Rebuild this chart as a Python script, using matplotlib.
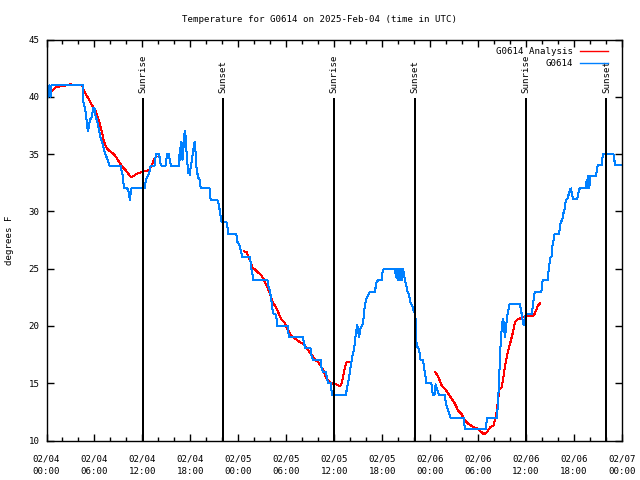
import numpy as np
import matplotlib
matplotlib.use("Agg")
import matplotlib.pyplot as plt
from matplotlib.ticker import MultipleLocator

# ---- data (hours since 2025-02-04 00:00 UTC, degrees F) ----
obs_hours = [0.0, 0.12, 0.25, 0.37, 0.5, 0.62, 1.0, 4.57, 4.63, 4.83, 5.0, 5.12, 5.2, 5.45, 5.65, 5.83,
             6.0, 6.12, 6.32, 6.52, 6.72, 7.05, 7.34, 7.54, 7.87, 9.27, 9.4, 9.57, 9.69, 10.11, 10.32, 10.43,
             10.6, 12.3, 12.43, 12.59, 12.84, 13.01, 13.14, 13.55, 13.67, 14.08, 14.26, 14.38, 14.88, 15.09,
             15.3, 15.55, 16.58, 16.67, 16.76, 16.88, 17.01, 17.17, 17.29, 17.42, 17.5, 17.63, 17.76, 17.83,
             17.92, 18.04, 18.2, 18.33, 18.45, 18.54, 18.63, 18.75, 18.95, 19.16, 19.29, 20.41, 20.53, 21.37,
             21.53, 21.65, 21.78, 21.9, 22.5, 22.62, 22.75, 23.75, 23.88, 24.17, 24.5, 25.42, 25.51, 25.63,
             25.76, 25.83, 27.64, 27.71, 27.92, 28.05, 28.21, 28.33, 28.64, 28.77, 28.89, 30.15, 30.22, 30.35,
             32.1, 32.22, 32.4, 33.02, 33.15, 33.35, 34.32, 34.4, 34.6, 34.94, 35.1, 35.22, 35.56, 35.72,
             37.46, 37.62, 37.84, 37.97, 38.09, 38.25, 38.47, 38.59, 38.72, 38.88, 39.0, 39.13, 39.21, 39.34,
             39.5, 39.62, 39.75, 39.87, 40.05, 40.25, 40.46, 41.08, 41.3, 41.5, 41.93, 42.05, 42.21, 43.59,
             43.72, 43.8, 43.93, 44.05, 44.18, 44.3, 44.43, 44.55, 44.68, 44.84, 45.05, 45.17, 45.34, 45.46,
             45.59, 45.8, 45.96, 46.09, 46.18, 46.22, 46.35, 46.6, 46.68, 46.8, 47.1, 47.19, 47.31, 47.43,
             47.52, 48.15, 48.22, 48.34, 48.56, 48.68, 48.77, 49.1, 49.86, 49.94, 50.1, 50.53, 52.23, 52.32,
             54.95, 55.11, 56.36, 56.57, 56.69, 56.78, 56.9, 57.03, 57.15, 57.23, 57.36, 57.44, 57.53, 57.66,
             57.79, 57.95, 59.2, 59.33, 59.49, 59.62, 59.74, 59.83, 60.04, 60.74, 60.87, 61.0, 61.08, 61.92,
             62.05, 62.13, 62.68, 62.76, 62.89, 62.97, 63.18, 63.26, 63.39, 63.52, 63.6, 64.14, 64.24, 64.36,
             64.53, 64.65, 64.78, 64.9, 64.99, 65.2, 65.49, 65.62, 65.7, 65.9, 66.4, 66.62, 66.75, 67.46,
             67.59, 67.66, 67.79, 67.91, 68.0, 68.21, 68.75, 68.84, 68.97, 69.47, 69.59, 69.67, 70.92, 71.14,
             72.0]
obs_temps = [40, 41, 40, 41, 40, 41, 41, 41, 39.5, 39, 38, 37.3, 37, 38, 38.2, 39,
             39, 38.4, 37.9, 37.3, 36.5, 35.8, 35, 34.7, 34, 34, 33.5, 33, 32, 32, 31.6, 31,
             32, 32, 32.75, 33, 33.35, 33.9, 34, 34, 35, 35, 34.2, 34, 34, 35,
             35, 34, 34, 35.5, 34.5, 36.1, 34.5, 35.8, 37, 36.5, 35.4, 34.2, 33.3, 33.6,
             33.2, 33.9, 34.5, 35.2, 35.7, 36.1, 35.4, 33.9, 33, 32.75, 32, 32, 31, 31,
             30.7, 30.2, 29.7, 29.1, 29.1, 28.7, 28, 28, 27.35, 27, 26, 26, 25.7, 25,
             24.6, 24, 24, 23.56, 23.1, 22.7, 21.8, 21.1, 21, 20.65, 20, 20, 19.6, 19,
             19, 18.46, 18.08, 18.08, 17.4, 17, 17, 16.4, 16, 16, 15.4, 15, 15, 14,
             14, 14.7, 15.45, 16.1, 16.6, 17.3, 17.9, 18.6, 19.5, 20.06, 19.5, 19, 19.6, 19.9,
             20.06, 20.35, 21.4, 21.95, 22.4, 22.7, 23, 23, 23.85, 24, 24, 24.7, 25, 25,
             24.3, 25, 24, 25, 24, 25, 24, 25, 24.7, 24, 23.4, 23, 22.8, 22.25,
             21.95, 21.65, 21.2, 21.2, 20.5, 18.9, 18.2, 18, 17.6, 17, 17, 16.56, 16, 15.55,
             15, 15, 14.5, 14, 14, 14.9, 14.67, 14, 14, 13.35, 12.9, 12, 12, 11,
             11, 12, 12, 14.4, 16.4, 18, 19.3, 20.35, 20.65, 19.9, 19, 19.6, 20.2, 20.9,
             21.4, 21.95, 21.95, 21.5, 20.9, 20.2, 20.06, 20.8, 21, 21, 22, 22.5, 23, 23,
             23.85, 24, 24, 24.6, 25, 25.9, 26.04, 26.9, 27.2, 27.94, 28, 28, 28.7, 29.1,
             29.25, 29.8, 30.04, 30.7, 31, 31.15, 31.9, 32, 31.6, 31.06, 31.06, 31.9, 32, 32,
             32.75, 32, 33.1, 32, 33.1, 33.1, 33.1, 33.56, 34.06, 34.06, 34.9, 35, 35, 34.06,
             34.06]

ana_hours = [0.16, 0.65, 1.1, 1.6, 2.5, 3.0, 3.5, 4.45, 4.62, 4.92, 5.33, 5.74, 6.04, 6.24, 6.45, 6.7,
             6.86, 7.07, 7.19, 7.41, 7.61, 7.82, 8.23, 8.65, 9.06, 9.47, 9.9, 10.31, 10.6, 10.93, 11.34,
             11.78, 12.2, 12.86, 13.16, 13.36, 13.57, 13.78,
             np.nan,
             24.7, 25.04, 25.24, 25.54, 25.74, 26.07, 26.49, 26.78, 27.11, 27.32, 27.61, 27.95, 28.16,
             28.36, 28.66, 28.99, 29.2, 29.48, 29.73, 30.03, 30.44, 30.85, 31.28, 31.69, 32.1, 32.44,
             32.72, 33.02, 33.35, 33.68, 33.97, 34.27, 34.52, 34.72, 34.93, 35.21, 35.55, 35.86, 36.2,
             36.5, 36.84, 37.0, 37.17, 37.34, 37.56, 37.84,
             np.nan,
             48.61, 49.02, 49.44, 49.85, 50.26, 50.69, 51.1, 51.51, 51.93, 52.34, 52.75, 53.38, 54.0,
             54.42, 54.71, 55.1, 55.51, 55.92, 56.13, 56.34, 56.54, 56.67, 56.96, 57.16, 57.37, 57.59,
             57.79, 58.0, 58.21, 58.41, 58.62, 58.91, 59.24, 59.66, 60.08, 60.9, 61.11, 61.32, 61.52,
             61.73]
ana_temps = [40.1, 40.5, 40.8, 40.9, 41.0, 41.1, 41.0, 41.0, 40.6, 40.2, 39.75, 39.2, 38.9, 38.6, 38.15, 37.56,
             37.1, 36.5, 36.1, 35.67, 35.46, 35.3, 35.1, 34.8, 34.35, 33.9, 33.6, 33.2, 33.0, 33.1, 33.3,
             33.4, 33.5, 33.6, 34.06, 34.35, 34.65, 34.8,
             np.nan,
             26.5, 26.45, 26.04, 25.6, 25.1, 24.94, 24.64, 24.5, 24.15, 23.85, 23.4, 22.8, 22.4,
             21.96, 21.7, 21.2, 20.8, 20.5, 20.35, 19.9, 19.34, 19.04, 18.8, 18.6, 18.46, 18.2,
             17.9, 17.6, 17.3, 17.0, 16.86, 16.56, 16.27, 16.0, 15.55, 15.25, 15.0, 14.96, 14.9,
             14.8, 14.8, 15.25, 15.83, 16.4, 16.86, 16.86,
             np.nan,
             16.0, 15.55, 14.8, 14.5, 14.1, 13.65, 13.2, 12.6, 12.3, 11.75, 11.46, 11.2, 11.0,
             10.73, 10.53, 10.73, 11.17, 11.3, 11.9, 12.6, 13.8, 14.5, 14.67, 15.55, 16.56, 17.3,
             17.9, 18.46, 19.04, 19.6, 20.35, 20.56, 20.65, 20.8, 20.9, 20.9, 21.1, 21.5, 21.8,
             21.95]

sun_hours = [12.1, 22.1, 36.0, 46.1, 60.0, 70.05]
sun_labels = ["Sunrise", "Sunset", "Sunrise", "Sunset", "Sunrise", "Sunset"]

tick_hours = [0, 6, 12, 18, 24, 30, 36, 42, 48, 54, 60, 66, 72]
tick_labels = ["02/04\n00:00", "02/04\n06:00", "02/04\n12:00", "02/04\n18:00",
               "02/05\n00:00", "02/05\n06:00", "02/05\n12:00", "02/05\n18:00",
               "02/06\n00:00", "02/06\n06:00", "02/06\n12:00", "02/06\n18:00",
               "02/07\n00:00"]

title = "Temperature for G0614 on 2025-Feb-04 (time in UTC)"

# ---- plotting ----
FONT = "DejaVu Sans Mono"
FS = 6.6
plt.rcParams['font.family'] = [FONT]

fig = plt.figure(figsize=(6.4, 4.8), dpi=100)
ax = fig.add_axes([46.5 / 640, 1 - 440.5 / 480, (622 - 46.5) / 640, (440.5 - 39.5) / 480])

ax.plot(ana_hours, ana_temps, color="#ff0000", lw=0.72, label="G0614 Analysis", antialiased=False)
ax.plot(obs_hours, obs_temps, color="#0080ff", lw=0.72, label="G0614", antialiased=False)

for h, lab in zip(sun_hours, sun_labels):
    ax.plot([h, h], [10, 39.8], color="black", lw=1.2, antialiased=False)
    ax.text(h, 40.35, lab, rotation=90, ha="center", va="bottom", fontsize=FS, family=FONT)

ax.set_xlim(0, 72)
ax.set_ylim(10, 45)
ax.set_xticks(tick_hours)
ax.set_xticklabels(tick_labels, fontsize=FS, family=FONT, linespacing=1.55)
ax.xaxis.set_minor_locator(MultipleLocator(2))
ax.set_yticks(range(10, 46, 5))
ax.set_yticklabels([str(v) for v in range(10, 46, 5)], fontsize=FS, family=FONT)

ax.tick_params(axis="both", which="major", direction="in", length=5, width=1,
               top=True, right=True, colors="black")
ax.tick_params(axis="both", which="minor", direction="in", length=3, width=1,
               top=True, right=True)
ax.tick_params(axis="x", which="major", pad=10)
ax.tick_params(axis="y", which="major", pad=5)
for s in ax.spines.values():
    s.set_linewidth(1.0)
    s.set_color("black")

leg = ax.legend(loc="upper right", bbox_to_anchor=(1 - 7 / 575.5, 1), frameon=False, markerfirst=False,
                prop={"family": FONT, "size": FS}, handlelength=3.0, handletextpad=0.8,
                borderaxespad=0.6, labelspacing=0.35, borderpad=0.2)
for ln in leg.get_lines():
    ln.set_linewidth(1.0)
    ln.set_antialiased(True)

fig.text(0.5, 1 - 20 / 480, title, ha="center", va="center", fontsize=FS, family=FONT)
fig.text(10 / 640, 0.5, "degrees F", rotation=90, ha="center", va="center", fontsize=FS, family=FONT)

fig.savefig("out.png", dpi=100)
